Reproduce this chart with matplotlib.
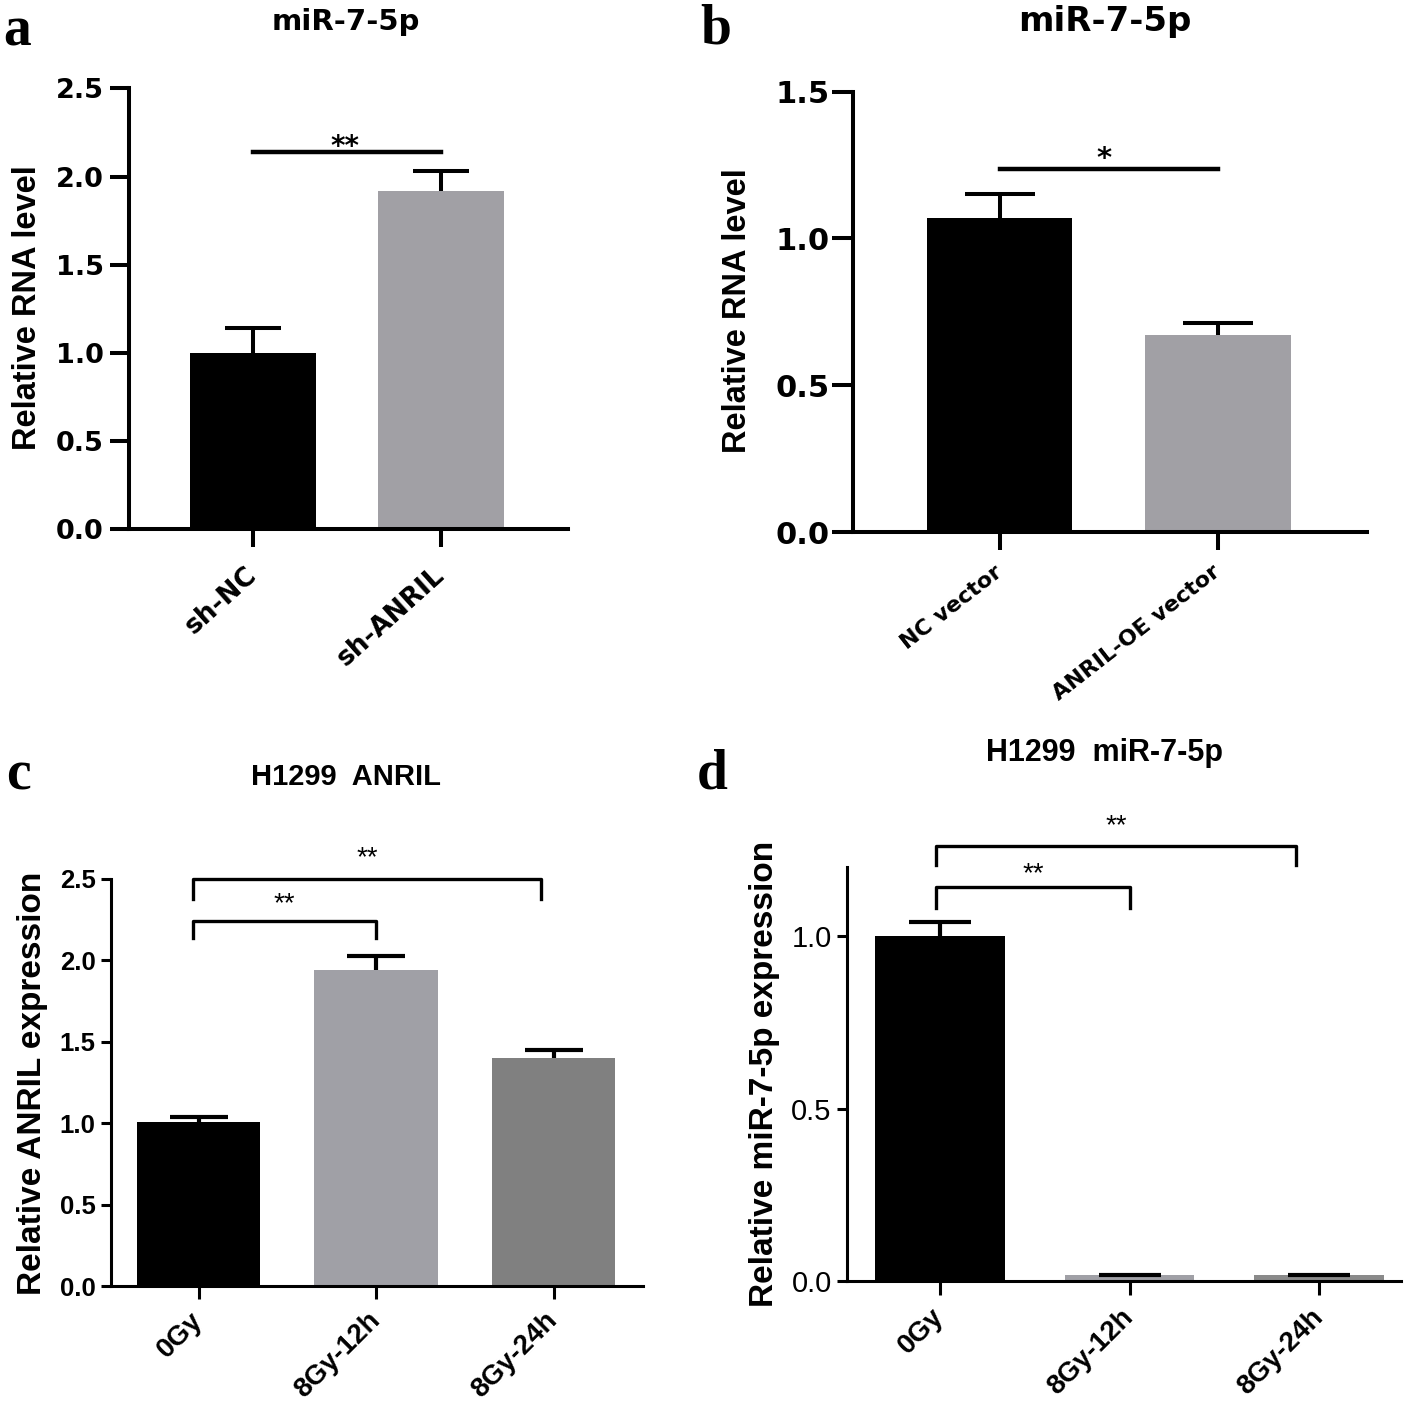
import matplotlib
matplotlib.use("Agg")
import matplotlib.pyplot as plt

# ---- data ----
a_labels = ["sh-NC", "sh-ANRIL"]
a_values = [1.00, 1.92]
a_err = [0.14, 0.11]
a_colors = ["#000000", "#a1a0a5"]

b_labels = ["NC vector", "ANRIL-OE vector"]
b_values = [1.07, 0.67]
b_err = [0.08, 0.04]
b_colors = ["#000000", "#a1a0a5"]

c_labels = ["0Gy", "8Gy-12h", "8Gy-24h"]
c_values = [1.01, 1.94, 1.40]
c_err = [0.03, 0.09, 0.05]
c_colors = ["#000000", "#a0a0a6", "#808080"]

d_labels = ["0Gy", "8Gy-12h", "8Gy-24h"]
d_values = [1.00, 0.016, 0.016]
d_err = [0.04, 0.0, 0.0]
d_colors = ["#000000", "#a0a0a6", "#8a8a8a"]

# significance marks: (start, end, height, leg_bottom, text, text_offset)
a_sig = [(0.0, 1.0, 2.14, "**", -0.05)]
b_sig = [(0.0, 1.0, 1.236, "*", -0.015)]
c_sig = [(-0.03, 1.0, 2.24, 2.14, "**", 0.025), (-0.03, 1.93, 2.50, 2.38, "**", 0.05)]
d_sig = [(-0.02, 1.0, 1.142, 1.081, "**", 0.0), (-0.02, 1.88, 1.261, 1.206, "**", 0.02)]

W, H = 1416, 1407
fig = plt.figure(figsize=(W / 100, H / 100), dpi=100)


def make_axes(left, right, top, bottom, first_center, spacing, lw):
    ax = fig.add_axes([left / W, 1 - bottom / H, (right - left) / W, (bottom - top) / H])
    ax.set_xlim((left - first_center) / spacing, (right - first_center) / spacing)
    for s in ("top", "right"):
        ax.spines[s].set_visible(False)
    for s in ("left", "bottom"):
        ax.spines[s].set_linewidth(lw)
    return ax


def ftext(x, y, s, **kw):
    fig.text(x / W, 1 - y / H, s, **kw)


def draw_bars(ax, values, errs, colors, width, cap, lw):
    x = list(range(len(values)))
    tops = [v + e for v, e in zip(values, errs)]
    ax.bar(x, values, width=width, color=colors, zorder=2)
    ax.vlines(x, values, tops, color="black", lw=lw, zorder=3)
    ax.plot(x, tops, ls="none", marker="_", ms=cap, mew=lw, color="black", zorder=3)


# ---------------- panel a ----------------
ax = make_axes(128.6, 568, 88.4, 529, 253, 188, 2.9)
draw_bars(ax, a_values, a_err, a_colors, 0.665, 40, 2.9)
ax.set_ylim(0, 2.5)
ax.set_yticks([0, 0.5, 1.0, 1.5, 2.0, 2.5])
ax.set_yticklabels(["0.0", "0.5", "1.0", "1.5", "2.0", "2.5"],
                   fontsize=19.5, fontweight="bold", family="DejaVu Sans")
ax.set_xticks(range(len(a_labels)))
ax.set_xticklabels(a_labels, rotation=42, ha="right", va="center", rotation_mode="anchor",
                   fontsize=19, fontweight="bold", family="DejaVu Sans")
ax.tick_params(axis="y", length=14, width=2.9, pad=4)
ax.tick_params(axis="x", length=13, width=2.9, pad=18)
for x0, x1, y, t, off in a_sig:
    ax.plot([x0, x1], [y, y], color="black", lw=3.2, clip_on=False)
    ax.text((x0 + x1) / 2 - 0.01, y + off, t, ha="center", va="bottom",
            fontsize=20, fontweight="bold", family="DejaVu Sans")
ftext(346, 22, "miR-7-5p", ha="center", va="center", fontsize=21,
      fontweight="bold", family="DejaVu Sans")
ftext(28, 308, "Relative RNA level", rotation=90, ha="center", va="center",
      fontsize=23.5, fontweight="bold", family="Liberation Sans")
ftext(3, 46, "a", ha="left", va="baseline", fontsize=40, fontweight="bold",
      family="Liberation Serif")

# ---------------- panel b ----------------
ax = make_axes(853, 1367, 91.5, 532, 999.5, 218.5, 2.9)
draw_bars(ax, b_values, b_err, b_colors, 0.664, 51, 2.9)
ax.set_ylim(0, 1.5)
ax.set_yticks([0, 0.5, 1.0, 1.5])
ax.set_yticklabels(["0.0", "0.5", "1.0", "1.5"],
                   fontsize=22, fontweight="bold", family="DejaVu Sans")
ax.set_xticks(range(len(b_labels)))
ax.set_xticklabels(b_labels, rotation=38, ha="right", va="center", rotation_mode="anchor",
                   fontsize=16, fontweight="bold", family="DejaVu Sans")
ax.tick_params(axis="y", length=15, width=2.9, pad=2)
ax.tick_params(axis="x", length=13, width=2.9, pad=14)
for x0, x1, y, t, off in b_sig:
    ax.plot([x0, x1], [y, y], color="black", lw=3.2, clip_on=False)
    ax.text((x0 + x1) / 2 - 0.02, y + off, t, ha="center", va="bottom",
            fontsize=21, fontweight="bold", family="DejaVu Sans")
ftext(1105, 22, "miR-7-5p", ha="center", va="center", fontsize=24.5,
      fontweight="bold", family="DejaVu Sans")
ftext(737, 311, "Relative RNA level", rotation=90, ha="center", va="center",
      fontsize=23.5, fontweight="bold", family="Liberation Sans")
ftext(700, 44, "b", ha="left", va="baseline", fontsize=40, fontweight="bold",
      family="Liberation Serif")

# ---------------- panel c ----------------
ax = make_axes(111, 643, 879, 1286, 198.5, 177.5, 2.2)
draw_bars(ax, c_values, c_err, c_colors, 0.693, 42, 3.0)
ax.set_ylim(0, 2.5)
ax.set_yticks([0, 0.5, 1.0, 1.5, 2.0, 2.5])
ax.set_yticklabels(["0.0", "0.5", "1.0", "1.5", "2.0", "2.5"],
                   fontsize=18.5, fontweight="bold", family="Liberation Sans")
ax.set_xticks(range(len(c_labels)))
ax.set_xticklabels(c_labels, rotation=45, ha="right", va="center", rotation_mode="anchor",
                   fontsize=20, fontweight="bold", family="Liberation Sans")
ax.tick_params(axis="y", length=7, width=2.2, pad=4)
ax.tick_params(axis="x", length=9, width=2.2, pad=13)
for x0, x1, y, leg, t, off in c_sig:
    ax.plot([x0, x0, x1, x1], [leg, y, y, leg], color="black", lw=2.4, clip_on=False)
    ax.text((x0 + x1) / 2, y + off, t, ha="center", va="bottom",
            fontsize=20, family="Liberation Sans")
ftext(346, 777, "H1299  ANRIL", ha="center", va="center", fontsize=21,
      fontweight="bold", family="Liberation Sans")
ftext(33, 1083, "Relative ANRIL expression", rotation=90, ha="center", va="center",
      fontsize=24, fontweight="bold", family="Liberation Sans")
ftext(6, 790, "c", ha="left", va="baseline", fontsize=40, fontweight="bold",
      family="Liberation Serif")

# ---------------- panel d ----------------
ax = make_axes(847, 1401, 867, 1281, 940, 189.5, 2.2)
draw_bars(ax, d_values, d_err, d_colors, 0.686, 45, 3.0)
ax.set_ylim(0, 1.2)
ax.set_yticks([0, 0.5, 1.0])
ax.set_yticklabels(["0.0", "0.5", "1.0"], fontsize=21, family="Liberation Sans")
ax.set_xticks(range(len(d_labels)))
ax.set_xticklabels(d_labels, rotation=45, ha="right", va="center", rotation_mode="anchor",
                   fontsize=20, fontweight="bold", family="Liberation Sans")
ax.tick_params(axis="y", length=7, width=2.2, pad=4)
ax.tick_params(axis="x", length=10, width=2.2, pad=13)
for x0, x1, y, leg, t, off in d_sig:
    ax.plot([x0, x0, x1, x1], [leg, y, y, leg], color="black", lw=2.4, clip_on=False)
    ax.text((x0 + x1) / 2, y + off, t, ha="center", va="bottom",
            fontsize=20, family="Liberation Sans")
ftext(1104, 753, "H1299  miR-7-5p", ha="center", va="center", fontsize=22,
      fontweight="bold", family="Liberation Sans")
ftext(765, 1074, "Relative miR-7-5p expression", rotation=90, ha="center", va="center",
      fontsize=24, fontweight="bold", family="Liberation Sans")
ftext(697, 788, "d", ha="left", va="baseline", fontsize=40, fontweight="bold",
      family="Liberation Serif")

fig.savefig("out.png", dpi=100)
